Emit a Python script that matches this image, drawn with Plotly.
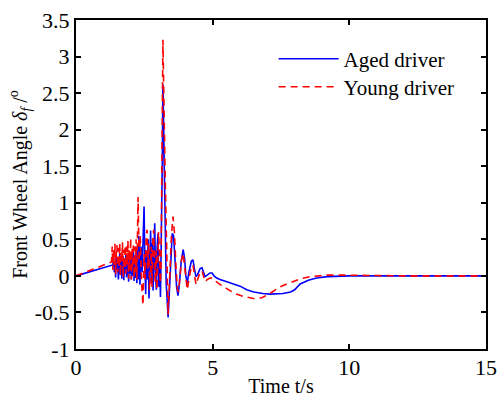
import plotly.graph_objects as go

# ---- data ----
aged_t = [0.0, 0.5, 1.0, 1.35,
          1.375, 1.400, 1.425, 1.450, 1.475, 1.500, 1.525, 1.550, 1.575, 1.600,
          1.625, 1.650, 1.675, 1.700, 1.725, 1.750, 1.775, 1.800, 1.825, 1.850,
          1.875, 1.900, 1.925, 1.950, 1.975, 2.000, 2.025, 2.050, 2.075, 2.100,
          2.125, 2.150, 2.175, 2.200, 2.225, 2.250, 2.275, 2.300,
          2.34, 2.38, 2.42, 2.46, 2.49, 2.52, 2.55, 2.58, 2.61, 2.64, 2.67, 2.70,
          2.73, 2.76, 2.79, 2.82, 2.85, 2.88, 2.91, 2.94, 2.97, 3.00, 3.03, 3.06,
          3.09, 3.12, 3.16, 3.18, 3.22, 3.30, 3.37,
          3.42, 3.47, 3.52, 3.57, 3.63, 3.68, 3.73, 3.78, 3.85, 3.92, 3.97, 4.02,
          4.07, 4.13, 4.22, 4.28, 4.34, 4.39, 4.45, 4.54, 4.61, 4.67, 4.72, 4.80,
          4.90, 4.98, 5.05, 5.15, 5.27, 5.60, 6.00, 6.25, 6.50, 6.84, 7.10, 7.57,
          7.85, 8.00, 8.20, 8.50, 8.80, 9.20, 9.66, 10.0, 11.0, 12.0, 13.0, 14.0, 15.0]
aged_y = [0.0, 0.05, 0.11, 0.15,
          0.25, 0.05, 0.20, -0.02, 0.28, 0.08, 0.22, -0.05, 0.18, 0.30,
          0.02, 0.24, -0.04, 0.15, 0.27, -0.06, 0.20, 0.05, 0.29, -0.02,
          0.17, 0.25, -0.08, 0.22, 0.03, 0.31, -0.05, 0.26, 0.00, 0.33,
          -0.07, 0.28, -0.03, 0.40, -0.10, 0.35, -0.05, 0.55,
          -0.12, 0.40, 0.05, 0.70, 0.95, 0.20, -0.25, 0.35, -0.05, 0.50, -0.31, 0.20,
          0.62, -0.10, 0.45, -0.20, 0.55, 0.72, 0.00, -0.19, 0.40, 0.58, -0.15, 0.20,
          -0.29, 0.30, 1.60, 2.62, 1.50, -0.10, -0.57,
          -0.20, 0.30, 0.58, 0.55, 0.15, -0.15, -0.27, -0.12, 0.20, 0.36, 0.25, 0.00,
          -0.10, 0.05, 0.20, 0.22, 0.08, -0.01, 0.02, 0.10, 0.11, 0.04, -0.01, 0.01,
          0.04, 0.04, 0.00, -0.03, -0.05, -0.09, -0.14, -0.19, -0.22, -0.24, -0.25, -0.24,
          -0.22, -0.19, -0.11, -0.06, -0.03, -0.01, 0.0, 0.0, 0.0, 0.0, 0.0, 0.0, 0.0]

young_t = [0.0, 0.5, 1.0, 1.300,
           1.325, 1.350, 1.375, 1.400, 1.425, 1.450, 1.475, 1.500, 1.525, 1.550,
           1.575, 1.600, 1.625, 1.650, 1.675, 1.700, 1.725, 1.750, 1.775, 1.800,
           1.825, 1.850, 1.875, 1.900, 1.925, 1.950, 1.975, 2.000, 2.025, 2.050,
           2.075, 2.100, 2.125, 2.150, 2.175, 2.200, 2.225,
           2.27, 2.31, 2.35, 2.40, 2.45, 2.49, 2.53, 2.57, 2.60, 2.63, 2.66, 2.69,
           2.72, 2.75, 2.78, 2.81, 2.84, 2.87, 2.90, 2.93, 2.96, 2.99, 3.02, 3.05,
           3.08, 3.11, 3.15, 3.18, 3.27, 3.37,
           3.43, 3.49, 3.55, 3.60, 3.66, 3.71, 3.75, 3.80, 3.86, 3.92, 3.97, 4.02,
           4.07, 4.13, 4.22, 4.28, 4.34, 4.39, 4.45, 4.54, 4.61, 4.67, 4.72, 4.80,
           4.90, 4.98, 5.10, 5.20, 5.50, 5.80, 6.10, 6.50, 6.80, 7.10, 7.46, 7.83,
           8.20, 8.56, 9.20, 10.0, 11.0, 12.0, 13.0, 14.0, 15.0]
young_y = [0.0, 0.07, 0.14, 0.19,
           0.40, 0.08, 0.35, 0.15, 0.44, 0.02, 0.30, 0.42, 0.05, 0.38,
           0.12, 0.45, 0.00, 0.33, 0.20, 0.46, -0.02, 0.36, 0.10, 0.42,
           0.03, 0.40, 0.15, 0.48, -0.04, 0.35, 0.08, 0.52, -0.05, 0.38,
           0.10, 0.45, -0.03, 0.40, 0.05, 0.50, -0.05,
           1.08, 0.20, 0.55, -0.10, -0.40, 0.30, -0.05, 0.55, 0.63, 0.10, 0.45, -0.19,
           0.00, 0.40, -0.15, 0.50, 0.63, 0.20, -0.10, 0.35, -0.19, 0.15, 0.60, 0.35,
           -0.10, 0.05, 1.60, 3.23, 1.20, -0.53,
           0.00, 0.55, 0.81, 0.60, 0.10, -0.18, -0.22, -0.05, 0.22, 0.31, 0.15, -0.10,
           -0.19, -0.05, 0.13, 0.15, 0.00, -0.12, -0.05, 0.05, 0.07, -0.02, -0.08, -0.05,
           -0.03, -0.03, -0.07, -0.10, -0.17, -0.24, -0.28, -0.31, -0.30, -0.24, -0.15, -0.09,
           -0.04, -0.01, 0.01, 0.01, 0.0, 0.0, 0.0, 0.0, 0.0]

x_ticks = [0, 5, 10, 15]
x_tick_labels = ["0", "5", "10", "15"]
y_ticks = [-1, -0.5, 0, 0.5, 1, 1.5, 2, 2.5, 3, 3.5]
y_tick_labels = ["-1", "-0.5", "0", "0.5", "1", "1.5", "2", "2.5", "3", "3.5"]

FONT = "Liberation Serif, Times New Roman, serif"

fig = go.Figure()
fig.add_trace(go.Scatter(x=aged_t, y=aged_y, mode="lines", name="Aged driver",
                         line=dict(color="#0000FF", width=1.6), legend="legend"))
fig.add_trace(go.Scatter(x=young_t, y=young_y, mode="lines", name="Young driver",
                         line=dict(color="#FF0000", width=1.6, dash="7px,5px"), legend="legend2"))

axis_common = dict(showline=True, mirror="ticks", linecolor="black", linewidth=2,
                   ticks="inside", ticklen=5, tickwidth=1.5, tickcolor="black",
                   showgrid=False, zeroline=False, automargin=False,
                   tickfont=dict(family=FONT, size=22, color="black"))

fig.update_xaxes(range=[0, 15], tickvals=x_ticks, ticktext=x_tick_labels,
                 title=dict(text="Time t/s", font=dict(family=FONT, size=20, color="black"), standoff=0),
                 ticklabelstandoff=-2,
                 **axis_common)
fig.update_yaxes(range=[-1, 3.5], tickvals=y_ticks, ticktext=y_tick_labels,
                 title=dict(text="Front Wheel Angle <i>δ</i><sub><i>f</i></sub> /<sup>o</sup>",
                            font=dict(family=FONT, size=20, color="black"), standoff=2),
                 **axis_common)

leg_common = dict(bgcolor="rgba(0,0,0,0)", borderwidth=0, xanchor="left", yanchor="middle",
                  font=dict(family=FONT, size=21, color="black"), itemwidth=60)
fig.update_layout(
    width=501, height=399,
    margin=dict(l=76, r=15, t=20, b=50),
    plot_bgcolor="white", paper_bgcolor="white",
    showlegend=True,
    legend=dict(x=0.482, y=0.881, **leg_common),
    legend2=dict(x=0.482, y=0.796, **leg_common),
)

fig.write_html("out.html")
